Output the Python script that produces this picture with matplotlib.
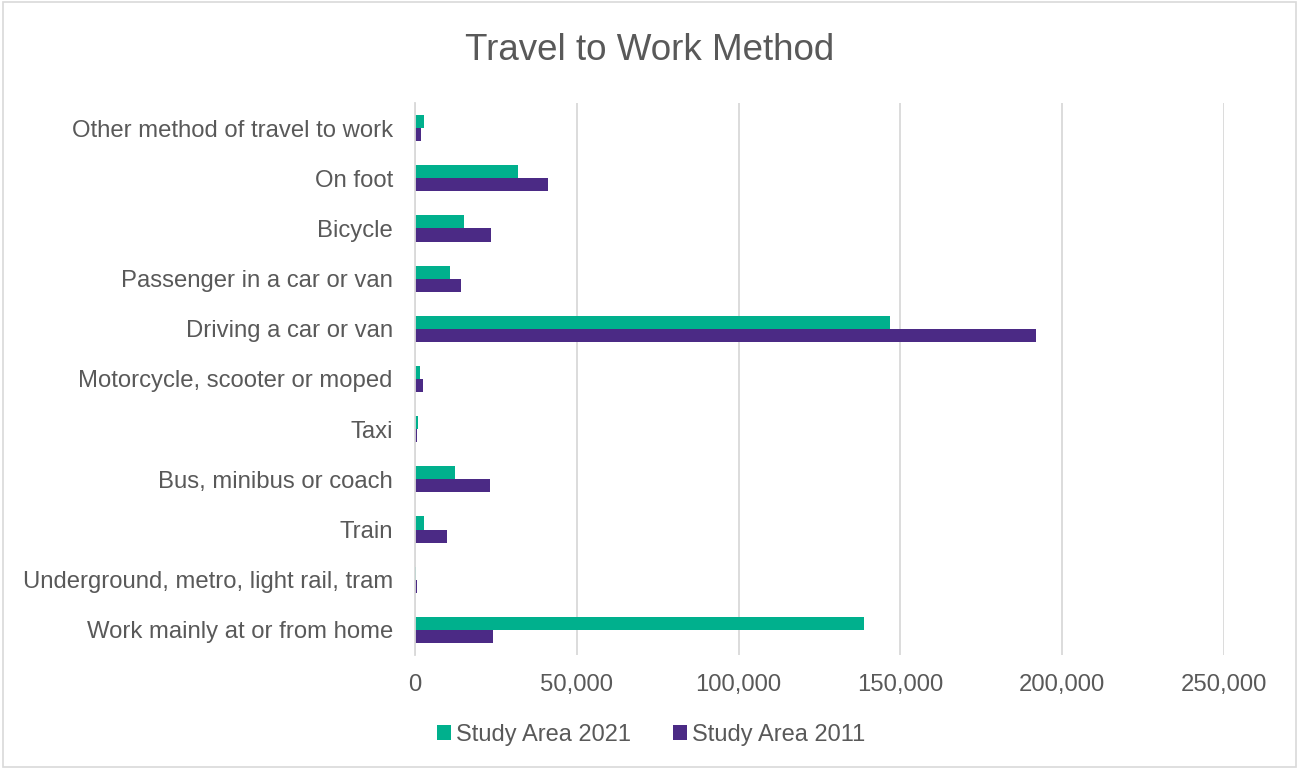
import matplotlib
matplotlib.use("Agg")
import matplotlib.pyplot as plt
import numpy as np
from matplotlib.patches import Rectangle

categories = [
    "Other method of travel to work",
    "On foot",
    "Bicycle",
    "Passenger in a car or van",
    "Driving a car or van",
    "Motorcycle, scooter or moped",
    "Taxi",
    "Bus, minibus or coach",
    "Train",
    "Underground, metro, light rail, tram",
    "Work mainly at or from home",
]
area_2021 = [2800, 31700, 15100, 10800, 146700, 1500, 800, 12500, 2900, 200, 138600]
area_2011 = [1800, 41000, 23600, 14200, 192000, 2500, 600, 23300, 9800, 500, 24100]
xticks = [0, 50000, 100000, 150000, 200000, 250000]

green = "#00B08D"
purple = "#4B2A85"
text_grey = "#595959"

plt.rcParams["font.family"] = ["Liberation Sans", "DejaVu Sans"]

fig = plt.figure(figsize=(12.99, 7.69), dpi=100)
ax = fig.add_axes([415 / 1299, 1 - 655 / 769, (1224 - 415) / 1299, (655 - 103) / 769])

n = len(categories)
y = np.arange(n)[::-1].astype(float)
h = 0.26
ax.barh(y + h / 2, area_2021, height=h, color=green, label="Study Area 2021", zorder=3)
ax.barh(y - h / 2, area_2011, height=h, color=purple, label="Study Area 2011", zorder=3)

ax.set_xlim(0, 250000)
ax.set_ylim(-0.5, n - 0.5)
ax.set_xticks(xticks)
ax.set_xticklabels([f"{v:,}" for v in xticks])
ax.set_yticks(y)
ax.set_yticklabels(categories)
ax.tick_params(axis="both", length=0, labelsize=17.2, colors=text_grey)
ax.tick_params(axis="x", pad=14)
ax.tick_params(axis="y", pad=16)

ax.grid(axis="x", color="#D9D9D9", linewidth=1.3, zorder=0)
for s in ["top", "right", "bottom"]:
    ax.spines[s].set_visible(False)
ax.spines["left"].set_color("#D9D9D9")
ax.spines["left"].set_linewidth(1.3)
ax.spines["left"].set_zorder(4)

fig.text(650 / 1299, 1 - 50 / 769, "Travel to Work Method", ha="center", va="center",
         fontsize=26.5, color=text_grey)

leg = fig.legend(loc="center", bbox_to_anchor=(651 / 1299, 1 - 735 / 769), ncol=2,
                 frameon=False, fontsize=17, handlelength=0.6, handleheight=0.6,
                 handletextpad=0.2, columnspacing=1.8, labelcolor=text_grey)

fig.patches.append(Rectangle((0.002, 0.002), 0.996, 0.996, transform=fig.transFigure,
                             fill=False, edgecolor="#D9D9D9", linewidth=1.2))

fig.savefig("out.png", dpi=100, facecolor="white")
